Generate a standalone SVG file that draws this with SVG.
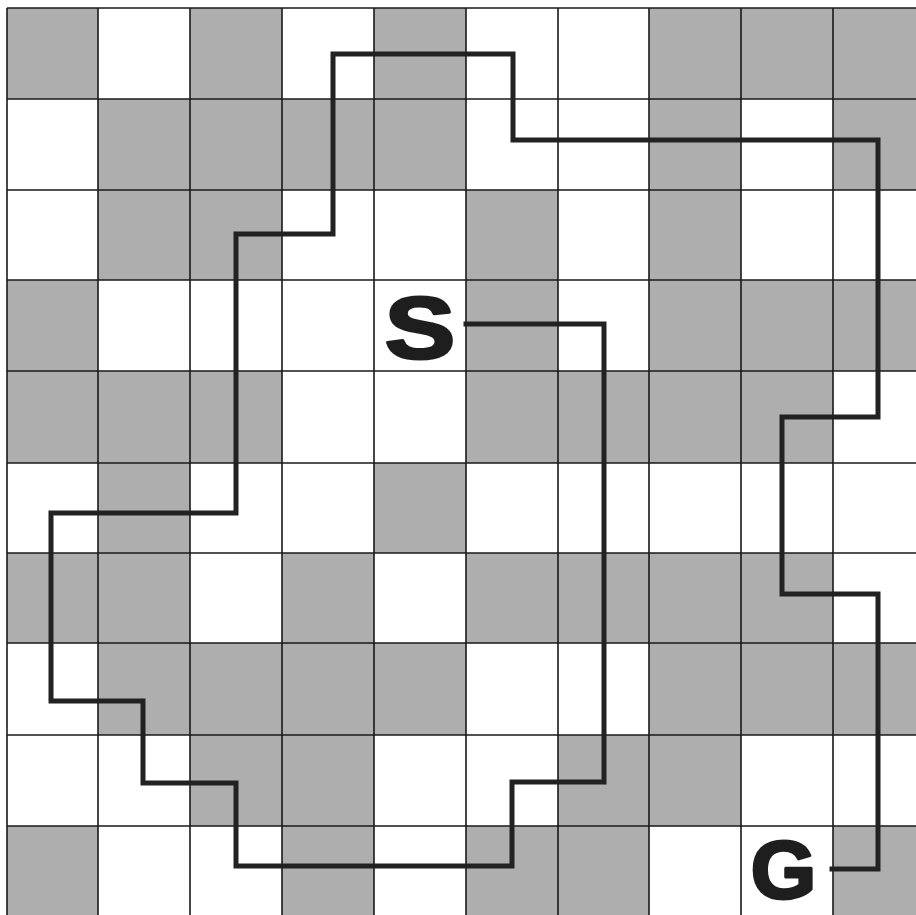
<svg xmlns="http://www.w3.org/2000/svg" width="916" height="915" viewBox="0 0 916 915">
<style>
.bg{fill:#ffffff}
.g{fill:#aeaeae}
.grid{stroke:#1a1a1a;stroke-width:1.6;fill:none}
.route{stroke:#222222;stroke-width:5;fill:none;stroke-linejoin:miter;stroke-linecap:square}
.lbl{font-family:"Liberation Sans",Arial,sans-serif;font-weight:700;fill:#1e1e1e;stroke:#1e1e1e;stroke-width:3;stroke-linejoin:round;text-anchor:middle}
</style>
<rect class="bg" x="0" y="0" width="916" height="915"/>
<g id="cells">
<rect class="g" x="7" y="8" width="91" height="91"/>
<rect class="g" x="190" y="8" width="92" height="91"/>
<rect class="g" x="374" y="8" width="92" height="91"/>
<rect class="g" x="649" y="8" width="267" height="91"/>
<rect class="g" x="98" y="99" width="368" height="91"/>
<rect class="g" x="649" y="99" width="92" height="91"/>
<rect class="g" x="833" y="99" width="83" height="91"/>
<rect class="g" x="98" y="190" width="184" height="90"/>
<rect class="g" x="466" y="190" width="92" height="90"/>
<rect class="g" x="649" y="190" width="92" height="90"/>
<rect class="g" x="7" y="280" width="91" height="91"/>
<rect class="g" x="466" y="280" width="92" height="91"/>
<rect class="g" x="649" y="280" width="267" height="91"/>
<rect class="g" x="7" y="371" width="275" height="92"/>
<rect class="g" x="466" y="371" width="367" height="92"/>
<rect class="g" x="98" y="463" width="92" height="90"/>
<rect class="g" x="374" y="463" width="92" height="90"/>
<rect class="g" x="7" y="553" width="183" height="90"/>
<rect class="g" x="282" y="553" width="92" height="90"/>
<rect class="g" x="466" y="553" width="367" height="90"/>
<rect class="g" x="98" y="643" width="368" height="92"/>
<rect class="g" x="649" y="643" width="267" height="92"/>
<rect class="g" x="190" y="735" width="184" height="91"/>
<rect class="g" x="558" y="735" width="183" height="91"/>
<rect class="g" x="7" y="826" width="91" height="89"/>
<rect class="g" x="282" y="826" width="92" height="89"/>
<rect class="g" x="466" y="826" width="183" height="89"/>
<rect class="g" x="833" y="826" width="83" height="89"/>
</g>
<g id="grid">
<path class="grid" d="M7 8V915M98 8V915M190 8V915M282 8V915M374 8V915M466 8V915M558 8V915M649 8V915M741 8V915M833 8V915"/>
<path class="grid" d="M7 8H916M7 99H916M7 190H916M7 280H916M7 371H916M7 463H916M7 553H916M7 643H916M7 735H916M7 826H916"/>
</g>
<g id="connectors">
<path class="route" d="M466 324H604V782H512V866H236V783H143V701H51V513H236V234H333V54H513V140H878V417H782V594H878V869H832"/>
</g>
<g id="node-S">
<text class="lbl" font-size="88" transform="translate(420,358) scale(1.2,1)" x="0" y="0">S</text>
</g>
<g id="node-G">
<text class="lbl" font-size="81" transform="translate(783.5,898) scale(1.04,1)" x="0" y="0">G</text>
</g>
</svg>
